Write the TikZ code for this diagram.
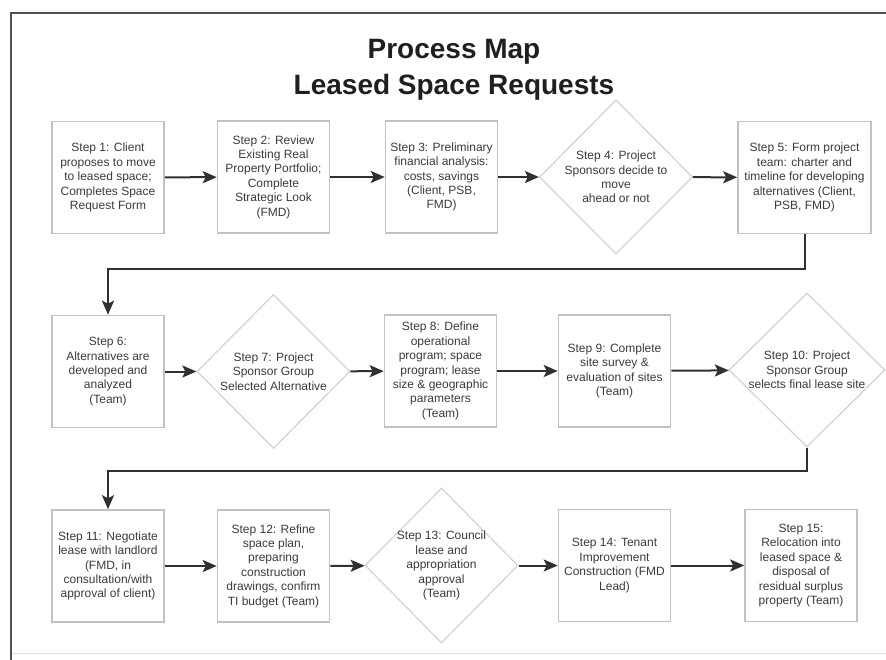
\documentclass[tikz,border=0pt]{standalone}
\usepackage{fontspec}
\setmainfont{Liberation Sans}
\usetikzlibrary{shapes.geometric,arrows.meta}
\definecolor{txtc}{HTML}{3A3A3A}
\definecolor{boxc}{HTML}{C2C2C2}
\definecolor{diac}{HTML}{D2D2D2}
\definecolor{arrc}{HTML}{303030}
\definecolor{framec}{HTML}{505050}
\begin{document}
\begin{tikzpicture}[x=1pt,y=-1pt,
  every node/.style={inner sep=0pt},
  stepbox/.style={draw=boxc, line width=1.6pt, minimum width=112pt, minimum height=112pt,
    align=center, text=txtc, font=\fontsize{12}{14.4}\selectfont},
  decbox/.style={draw=diac, line width=1.2pt, diamond, minimum width=153pt, minimum height=154pt},
  dectext/.style={align=center, text=txtc, font=\fontsize{12}{14.4}\selectfont},
  flow/.style={draw=arrc, line width=2pt, -{Stealth[length=14pt,width=12pt,inset=3pt]}}
]
\useasboundingbox (0,0) rectangle (886,660);
% frame
\draw[framec, line width=2pt] (11,660) -- (11,13) -- (886,13);
\draw[black!12, line width=1pt] (12,653) -- (886,653);
% title
\node[align=center, text=black!88, font=\fontsize{28}{36}\selectfont\bfseries] (title) at (454,70)
  {Process Map\\Leased Space Requests};
% row 1
\node[stepbox] (b1) at (108,177.5) {Step 1: Client\\proposes to move\\to leased space;\\Completes Space\\Request Form};
\node[stepbox] (b2) at (273.5,177) {Step 2: Review\\Existing Real\\Property Portfolio;\\Complete\\Strategic Look\\(FMD)};
\node[stepbox] (b3) at (441.5,177) {Step 3: Preliminary\\financial analysis:\\costs, savings\\(Client, PSB,\\FMD)};
\node[decbox] (d4) at (616,177) {};
\node[dectext] (d4t) at (616,177) {Step 4: Project\\Sponsors decide to\\move\\ahead or not};
\node[stepbox, minimum width=133pt] (b5) at (804.5,177.5) {Step 5: Form project\\team: charter and\\timeline for developing\\alternatives (Client,\\PSB, FMD)};
% row 2
\node[stepbox] (b6) at (108,371.5) {Step 6:\\Alternatives are\\developed and\\analyzed\\(Team)};
\node[decbox] (d7) at (273.5,371.5) {};
\node[dectext] (d7t) at (273.5,371.5) {Step 7: Project\\Sponsor Group\\Selected Alternative};
\node[stepbox] (b8) at (440.5,371) {Step 8: Define\\operational\\program; space\\program; lease\\size \& geographic\\parameters\\(Team)};
\node[stepbox] (b9) at (614.5,371) {Step 9: Complete\\site survey \&\\evaluation of sites\\(Team)};
\node[decbox, minimum width=156pt] (d10) at (807,370) {};
\node[dectext] (d10t) at (807,370) {Step 10: Project\\Sponsor Group\\selects final lease site};
% row 3
\node[stepbox] (b11) at (108,566) {Step 11: Negotiate\\lease with landlord\\(FMD, in\\consultation/with\\approval of client)};
\node[stepbox] (b12) at (273.5,566) {Step 12: Refine\\space plan,\\preparing\\construction\\drawings, confirm\\TI budget (Team)};
\node[decbox, minimum height=155pt] (d13) at (441.5,565.5) {};
\node[dectext] (d13t) at (441.5,565.5) {Step 13: Council\\lease and\\appropriation\\approval\\(Team)};
\node[stepbox] (b14) at (614.5,565.5) {Step 14: Tenant\\Improvement\\Construction (FMD\\Lead)};
\node[stepbox] (b15) at (801,565.5) {Step 15:\\Relocation into\\leased space \&\\disposal of\\residual surplus\\property (Team)};
% connectors
\draw[flow] (b1) -- (b2);
\draw[flow] (b2) -- (b3);
\draw[flow] (b3) -- (d4);
\draw[flow] (d4) -- (b5);
\draw[flow] (b5.south) -- ++(0,35) -| (b6.north);
\draw[flow] (b6) -- (d7);
\draw[flow] (d7) -- (b8);
\draw[flow] (b8) -- (b9);
\draw[flow] (b9) -- (d10);
\draw[flow] (d10.south) -- ++(0,23) -| (b11.north);
\draw[flow] (b11) -- (b12);
\draw[flow] (b12) -- (d13);
\draw[flow] (d13) -- (b14);
\draw[flow] (b14) -- (b15);
\end{tikzpicture}
\end{document}
